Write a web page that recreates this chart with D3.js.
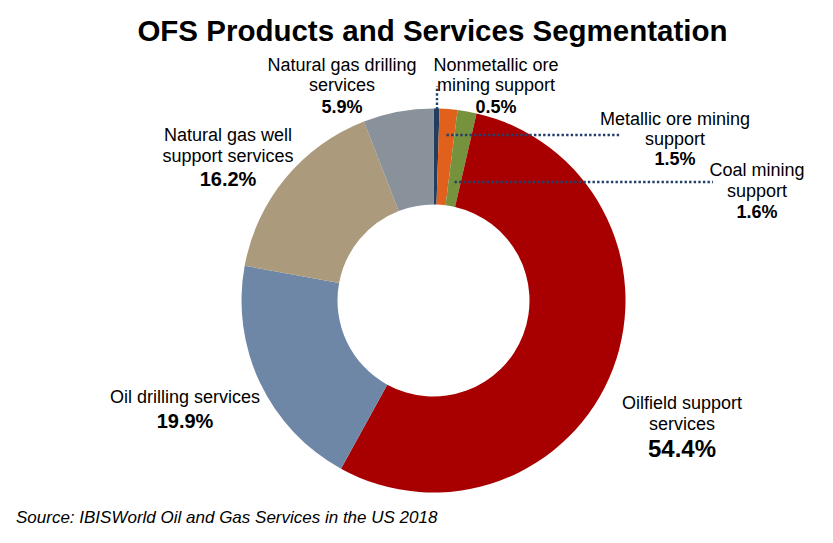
<!DOCTYPE html>
<html>
<head>
<meta charset="utf-8">
<script src="https://cdn.jsdelivr.net/npm/d3@7/dist/d3.min.js"></script>
<style>
  html, body { margin: 0; padding: 0; background: #ffffff; }
  svg { display: block; }
  text { font-family: "Liberation Sans", Arial, sans-serif; fill: #000; }
</style>
</head>
<body>
<svg id="chart" width="833" height="543"></svg>
<script>
// ---- Data ----
const categories = [
  "Nonmetallic ore mining support",
  "Metallic ore mining support",
  "Coal mining support",
  "Oilfield support services",
  "Oil drilling services",
  "Natural gas well support services",
  "Natural gas drilling services"
];
const shares = [0.5, 1.5, 1.6, 54.4, 19.9, 16.2, 5.9];
const labelLines = [
  ["Nonmetallic ore", "mining support"],
  ["Metallic ore mining", "support"],
  ["Coal mining", "support"],
  ["Oilfield support", "services"],
  ["Oil drilling services"],
  ["Natural gas well", "support services"],
  ["Natural gas drilling", "services"]
];
const titleText = "OFS Products and Services Segmentation";
const sourceText = "Source: IBISWorld Oil and Gas Services in the US 2018";

// ---- Styles / layout ----
const colors = ["#233d5e", "#e0601c", "#77923c", "#a80000", "#6f87a6", "#ab9a7b", "#89919b"];
const W = 833, H = 543;
const cx = 433.5, cy = 300.5, rOuter = 192, rInner = 96;
// label placement: [center x, first baseline y, line height, pct gap, pct font size]
const labelLayout = [
  [496, 71, 20, 22, 18],
  [675, 125, 20, 20, 18],
  [757, 176, 21, 21, 18],
  [682, 409, 21, 27, 24],
  [185, 403, 0, 25, 20],
  [228, 141, 21, 24, 20],
  [342, 71, 20, 22, 18]
];
// leader lines
const leaders = [
  {i: 0, r: rOuter - 1, to: 86, dir: "v"},
  {i: 1, r: 166, to: 621, dir: "h"},
  {i: 2, r: 120, to: 713, dir: "h"}
];

const svg = d3.select("#chart");
svg.append("rect").attr("width", W).attr("height", H).attr("fill", "#fff");

const data = categories.map((c, i) => ({name: c, value: shares[i], i}));
const pie = d3.pie().sort(null).value(d => d.value).startAngle(0).endAngle(2 * Math.PI);
const arcs = pie(data);
const arc = d3.arc().innerRadius(rInner).outerRadius(rOuter);

const g = svg.append("g").attr("transform", `translate(${cx},${cy})`);
g.selectAll("path.slice").data(arcs).join("path")
  .attr("class", "slice")
  .attr("d", arc)
  .attr("fill", d => colors[d.data.i]);

// leader lines
leaders.forEach(L => {
  const a = arcs[L.i];
  const mid = (a.startAngle + a.endAngle) / 2;
  let x0 = cx + L.r * Math.sin(mid);
  let y0 = cy - L.r * Math.cos(mid);
  if (L.dir === "h") y0 = Math.round(y0); else x0 = Math.round(x0);
  const x1 = L.dir === "h" ? L.to : x0;
  const y1 = L.dir === "h" ? y0 : L.to;
  svg.append("line")
    .attr("x1", x0).attr("y1", y0).attr("x2", x1).attr("y2", y1)
    .attr("stroke", "#24406a").attr("stroke-width", 2.4)
    .attr("stroke-dasharray", "2.4 2.2");
});

// labels
data.forEach((d, i) => {
  const [lx, ly, lh, pg, pfs] = labelLayout[i];
  const t = svg.append("g");
  labelLines[i].forEach((line, k) => {
    t.append("text")
      .attr("x", lx).attr("y", ly + k * lh)
      .attr("text-anchor", "middle")
      .attr("font-size", 18)
      .text(line);
  });
  const last = ly + (labelLines[i].length - 1) * lh;
  t.append("text")
    .attr("x", lx).attr("y", last + pg)
    .attr("text-anchor", "middle")
    .attr("font-size", pfs)
    .attr("font-weight", "bold")
    .text(d3.format(".1f")(d.value) + "%");
});

// title
svg.append("text")
  .attr("x", 432.5).attr("y", 41)
  .attr("text-anchor", "middle")
  .attr("font-size", 29.5)
  .attr("font-weight", "bold")
  .text(titleText);

// source
svg.append("text")
  .attr("x", 16).attr("y", 523)
  .attr("font-size", 17)
  .attr("font-style", "italic")
  .attr("fill", "#1a1a1a")
  .text(sourceText);
</script>
</body>
</html>
